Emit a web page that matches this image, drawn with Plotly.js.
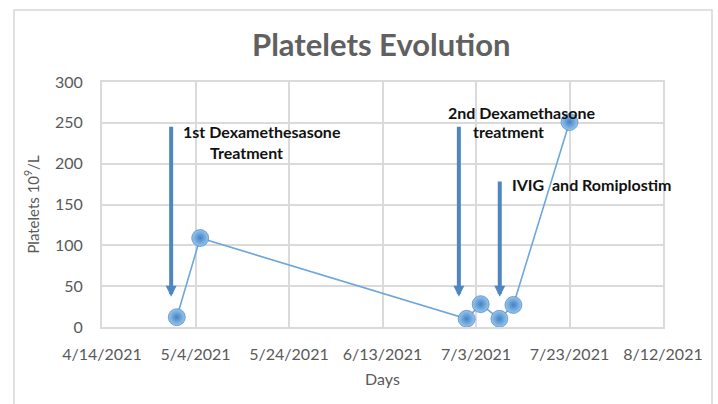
<!DOCTYPE html>
<html>
<head>
<meta charset="utf-8">
<script src="https://cdn.plot.ly/plotly-3.0.1.min.js"></script>
<style>
  html, body { margin: 0; padding: 0; background: #fff; }
  #chart { width: 718px; height: 404px; }
</style>
</head>
<body>
<div id="chart"></div>
<script>
// ---- data ----
const dates = ['2021-04-30', '2021-05-05', '2021-07-01', '2021-07-04', '2021-07-08', '2021-07-11', '2021-07-23'];
const platelets = [12, 109, 10, 28, 10, 27, 251];

// treatment arrows (date, top value, tip value)
const arrowDates = ['2021-04-28 19:00', '2021-06-29 08:00', '2021-07-08 02:00'];
const arrowTop = [247, 247, 180];
const arrowTip = [37, 37, 37];

// annotation text lines
const labelTexts = ['1st Dexamethesasone', 'Treatment', '2nd Dexamethasone', 'treatment', 'IVIG\u00a0 and Romiplostim'];
const labelDates = ['2021-05-01 00:00', '2021-05-15 00:00', '2021-06-26 16:00', '2021-07-01 20:00', '2021-07-10 04:00'];
const labelValues = [239, 214, 263, 239, 174];
const labelAnchors = ['left', 'center', 'left', 'left', 'left'];

const xTickStart = '2021-04-14';
const xRange = ['2021-04-14', '2021-08-12'];
const DAY = 86400000;

const FONT = 'Lato, "Open Sans", "DejaVu Sans", sans-serif';
const GRID = '#dadada';
const TXT = '#595959';

const trace = {
  x: dates,
  y: platelets,
  type: 'scatter',
  mode: 'lines+markers',
  line: { color: '#6ea7dd', width: 1.6 },
  marker: {
    size: 17,
    color: '#98c6ee',
    gradient: { type: 'radial', color: '#4282c4' },
    line: { color: '#3f7abb', width: 0.6 }
  },
  hoverinfo: 'x+y',
  showlegend: false
};

const annotations = [];
for (let i = 0; i < arrowDates.length; i++) {
  annotations.push({
    x: arrowDates[i], y: arrowTip[i],
    ax: arrowDates[i], ay: arrowTop[i],
    xref: 'x', yref: 'y', axref: 'x', ayref: 'y',
    text: '', showarrow: true,
    arrowhead: 2, arrowsize: 0.55, arrowwidth: 4,
    arrowcolor: '#4f86c2', standoff: 0, startstandoff: 0
  });
}
for (let i = 0; i < labelTexts.length; i++) {
  annotations.push({
    x: labelDates[i], y: labelValues[i], xref: 'x', yref: 'y',
    text: '<b>' + labelTexts[i] + '</b>', showarrow: false,
    xanchor: labelAnchors[i], yanchor: 'middle',
    font: { family: FONT, size: 16, color: '#111' }
  });
}

const layout = {
  width: 718, height: 404,
  margin: { l: 102, r: 55, t: 82, b: 77 },
  paper_bgcolor: '#fff', plot_bgcolor: '#fff',
  font: { family: FONT, color: TXT },
  title: {
    text: '<b>Platelets Evolution</b>',
    font: { family: FONT, size: 31, color: '#606060' },
    x: 0.531, xanchor: 'center', y: 0.888, yanchor: 'middle'
  },
  xaxis: {
    type: 'date',
    range: xRange,
    tick0: xTickStart,
    dtick: 20 * DAY,
    tickformat: '%-m/%-d/%Y',
    tickfont: { family: FONT, size: 16, color: TXT },
    ticklabelstandoff: 12,
    showgrid: true, gridcolor: GRID, gridwidth: 2,
    showline: true, linecolor: GRID, linewidth: 2, mirror: true,
    zeroline: false, ticks: '',
    title: { text: 'Days', font: { family: FONT, size: 16, color: TXT }, standoff: 12 }
  },
  yaxis: {
    range: [0, 300],
    dtick: 50,
    tickfont: { family: FONT, size: 16, color: TXT },
    ticklabelstandoff: 14,
    showgrid: true, gridcolor: GRID, gridwidth: 2,
    showline: true, linecolor: GRID, linewidth: 2, mirror: true,
    zeroline: false, ticks: '',
    title: { text: 'Platelets 10<sup>9</sup>/L', font: { family: FONT, size: 15, color: TXT }, standoff: 12 }
  },
  annotations: annotations,
  shapes: [{
    type: 'rect', xref: 'paper', yref: 'paper',
    x0: (14 - 102) / 561, x1: (712 - 102) / 561,
    y0: (327 - 412) / 245, y1: (327 - 10) / 245,
    line: { color: '#d6d6d6', width: 1.5 }, fillcolor: 'rgba(0,0,0,0)', layer: 'below'
  }]
};

Plotly.newPlot('chart', [trace], layout, { displayModeBar: false, staticPlot: true });
</script>
</body>
</html>
